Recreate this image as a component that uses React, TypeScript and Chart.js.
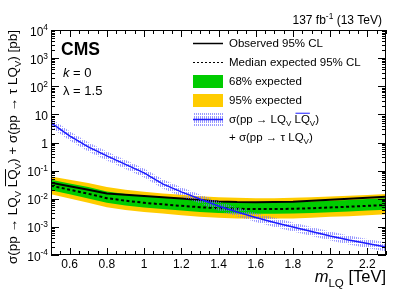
import { useEffect, useRef } from 'react';
import { Chart, registerables } from 'chart.js';
Chart.register(...registerables);

const masses = [0.5, 0.6, 0.7, 0.8, 0.9, 1.0, 1.1, 1.2, 1.3, 1.4, 1.5, 1.6, 1.7, 1.8, 1.9, 2.0, 2.1, 2.2, 2.3];
const observed = [0.037, 0.028, 0.021, 0.0155, 0.0138, 0.0125, 0.0113, 0.0102, 0.009, 0.008, 0.0076, 0.0075, 0.0076, 0.0079, 0.0085, 0.0092, 0.01, 0.0108, 0.0117];
const expected = [0.029, 0.021, 0.015, 0.0105, 0.0085, 0.0072, 0.0063, 0.0056, 0.005, 0.0046, 0.0044, 0.0043, 0.0043, 0.0044, 0.0046, 0.0049, 0.0052, 0.0056, 0.006];
const exp68Up = [0.047, 0.035, 0.026, 0.018, 0.0148, 0.0126, 0.011, 0.0098, 0.0088, 0.0081, 0.0077, 0.0075, 0.0075, 0.0077, 0.008, 0.0085, 0.009, 0.0097, 0.0104];
const exp68Down = [0.02, 0.0145, 0.0103, 0.0072, 0.0058, 0.0049, 0.0043, 0.0038, 0.0034, 0.0031, 0.003, 0.0029, 0.0029, 0.003, 0.0031, 0.0033, 0.0035, 0.0038, 0.0041];
const exp95Up = [0.062, 0.047, 0.036, 0.026, 0.021, 0.0177, 0.0155, 0.0138, 0.0123, 0.0113, 0.0108, 0.0105, 0.0105, 0.0108, 0.0113, 0.012, 0.0127, 0.0137, 0.0147];
const exp95Down = [0.0145, 0.0102, 0.0072, 0.005, 0.004, 0.0034, 0.003, 0.0026, 0.0023, 0.0021, 0.002, 0.002, 0.002, 0.002, 0.0021, 0.0023, 0.0024, 0.0026, 0.0028];
const theory = [4.99, 1.72, 0.70, 0.333, 0.166, 0.083, 0.0337, 0.0175, 0.0098, 0.0055, 0.0034, 0.00216, 0.00144, 0.00099, 0.000685, 0.000474, 0.000342, 0.000256, 0.000193];
const theoryUp = [7.24, 2.49, 1.02, 0.483, 0.241, 0.12, 0.0489, 0.0254, 0.0142, 0.008, 0.0049, 0.00313, 0.00209, 0.00144, 0.00099, 0.000687, 0.000496, 0.000371, 0.00028];
const theoryDown = [3.44, 1.19, 0.483, 0.23, 0.114, 0.0572, 0.0232, 0.0121, 0.00676, 0.00379, 0.00234, 0.00149, 0.00099, 0.00068, 0.000472, 0.000327, 0.000236, 0.000177, 0.000133];

const xTickValues = [0.6, 0.8, 1.0, 1.2, 1.4, 1.6, 1.8, 2.0, 2.2];
const xTickLabels = ['0.6', '0.8', '1', '1.2', '1.4', '1.6', '1.8', '2', '2.2'];
const yTickExponents = [-4, -3, -2, -1, 0, 1, 2, 3, 4];

const legendLabels = ['Observed 95% CL', 'Median expected 95% CL', '68% expected', '95% expected'];

const FONT = '"Liberation Sans", Arial, Helvetica, sans-serif';
const GREEN = '#00cc00';
const YELLOW = '#ffcc00';
const BLUE = '#1a1aff';

type Seg = { t: string; s?: 'sub' | 'sup'; i?: boolean; b?: boolean; o?: boolean };

function fontFor(seg: Seg, size: number) {
  const sz = seg.s ? size * 0.7 : size;
  return `${seg.i ? 'italic ' : ''}${seg.b ? 'bold ' : ''}${sz}px ${FONT}`;
}

function measureRich(ctx: CanvasRenderingContext2D, segs: Seg[], size: number) {
  let w = 0;
  for (const s of segs) {
    ctx.font = fontFor(s, size);
    w += ctx.measureText(s.t).width;
  }
  return w;
}

function drawRich(ctx: CanvasRenderingContext2D, segs: Seg[], x: number, y: number, size: number, align: 'left' | 'right' | 'center') {
  const w = measureRich(ctx, segs, size);
  let cx = align === 'left' ? x : align === 'right' ? x - w : x - w / 2;
  ctx.textAlign = 'left';
  ctx.textBaseline = 'alphabetic';
  for (const s of segs) {
    ctx.font = fontFor(s, size);
    const sw = ctx.measureText(s.t).width;
    const dy = s.s === 'sub' ? size * 0.3 : s.s === 'sup' ? -size * 0.42 : 0;
    ctx.fillText(s.t, cx, y + dy);
    if (s.o) {
      ctx.save();
      ctx.lineWidth = 1;
      ctx.beginPath();
      ctx.moveTo(cx + 1, y - size * 0.85);
      ctx.lineTo(cx + sw, y - size * 0.85);
      ctx.stroke();
      ctx.restore();
    }
    cx += sw;
  }
}

function makeHatch(): CanvasPattern | string {
  const c = document.createElement('canvas');
  c.width = 2;
  c.height = 4;
  const g = c.getContext('2d');
  if (!g) return 'rgba(120,120,255,0.5)';
  g.fillStyle = 'rgba(110,110,255,0.7)';
  g.fillRect(0, 0, 1, 3);
  const p = g.createPattern(c, 'repeat');
  return p || 'rgba(120,120,255,0.5)';
}

function pts(arr: number[]) {
  return masses.map((m, i) => ({ x: m, y: arr[i] }));
}

export default function App() {
  const ref = useRef<HTMLCanvasElement>(null);

  useEffect(() => {
    if (!ref.current) return;
    const hatch = makeHatch();

    const deco = {
      id: 'deco',
      beforeDraw(chart: any) {
        const ctx = chart.ctx as CanvasRenderingContext2D;
        ctx.save();
        ctx.fillStyle = '#fff';
        ctx.fillRect(0, 0, chart.width, chart.height);
        ctx.restore();
      },
      afterDraw(chart: any) {
        const ctx = chart.ctx as CanvasRenderingContext2D;
        const { left, right, top, bottom } = chart.chartArea;
        const xs = chart.scales.x;
        const ys = chart.scales.y;
        ctx.save();
        ctx.strokeStyle = '#000';
        ctx.fillStyle = '#000';
        ctx.lineWidth = 1;
        ctx.strokeRect(left + 0.5, top + 0.5, right - left - 1, bottom - top - 1);

        const line = (x1: number, y1: number, x2: number, y2: number) => {
          ctx.beginPath();
          ctx.moveTo(x1, y1);
          ctx.lineTo(x2, y2);
          ctx.stroke();
        };

        // x ticks (every 0.05, major every 0.2)
        for (let i = 10; i <= 46; i++) {
          const v = i * 0.05;
          const px = Math.round(xs.getPixelForValue(v)) + 0.5;
          const len = i % 4 === 0 ? 7 : 4;
          line(px, bottom, px, bottom - len);
          line(px, top, px, top + len);
        }
        // y ticks (log)
        for (let e = -4; e <= 4; e++) {
          for (let k = 1; k <= 9; k++) {
            if (e === 4 && k > 1) break;
            const v = k * Math.pow(10, e);
            const py = Math.round(ys.getPixelForValue(v)) + 0.5;
            const len = k === 1 ? 8 : 4;
            line(left, py, left + len, py);
            line(right, py, right - len, py);
          }
        }

        // x labels
        ctx.font = `12px ${FONT}`;
        ctx.textAlign = 'center';
        ctx.textBaseline = 'middle';
        xTickValues.forEach((v, i) => {
          ctx.fillText(xTickLabels[i], xs.getPixelForValue(v), bottom + 10);
        });
        // y labels
        yTickExponents.forEach((e) => {
          const py = ys.getPixelForValue(Math.pow(10, e));
          let segs: Seg[];
          if (e === 0) segs = [{ t: '1' }];
          else if (e === 1) segs = [{ t: '10' }];
          else segs = [{ t: '10' }, { t: String(e), s: 'sup' }];
          drawRich(ctx, segs, left - 3, py + 5.5, 12, 'right');
        });

        // x title
        drawRich(ctx, [{ t: 'm', i: true }, { t: 'LQ', s: 'sub' }, { t: ' [TeV]' }], right, 282, 16.5, 'right');

        // y title
        ctx.save();
        ctx.translate(17, top);
        ctx.rotate(-Math.PI / 2);
        drawRich(ctx, [
          { t: 'σ(pp → LQ' }, { t: 'V', s: 'sub' }, { t: ' ' }, { t: 'LQ', o: true }, { t: 'V', s: 'sub' },
          { t: ') + σ(pp → τ LQ' }, { t: 'V', s: 'sub' }, { t: ') [pb]' },
        ], 0, 0, 13.5, 'right');
        ctx.restore();

        // top right lumi
        drawRich(ctx, [{ t: '137 fb' }, { t: '-1', s: 'sup' }, { t: ' (13 TeV)' }], 382, 24, 12, 'right');

        // CMS and params
        drawRich(ctx, [{ t: 'CMS', b: true }], 61, 55, 17.5, 'left');
        drawRich(ctx, [{ t: 'k', i: true }, { t: ' = 0' }], 63, 77, 13, 'left');
        drawRich(ctx, [{ t: 'λ = 1.5' }], 63, 95, 13, 'left');

        // legend
        const lx0 = 193, lx1 = 223, tx = 229;
        const rows = [43, 62, 81, 100, 119, 137];
        ctx.lineWidth = 1.5;
        ctx.strokeStyle = '#000';
        line(lx0, rows[0] + 0.5, lx1, rows[0] + 0.5);
        ctx.save();
        ctx.lineWidth = 1;
        ctx.setLineDash([2, 2]);
        line(lx0, rows[1] + 0.5, lx1, rows[1] + 0.5);
        ctx.restore();
        ctx.fillStyle = GREEN;
        ctx.fillRect(lx0, rows[2] - 6, lx1 - lx0, 13);
        ctx.fillStyle = YELLOW;
        ctx.fillRect(lx0, rows[3] - 6, lx1 - lx0, 13);
        ctx.fillStyle = hatch as any;
        ctx.fillRect(lx0, rows[4] - 6, lx1 - lx0, 13);
        ctx.strokeStyle = BLUE;
        ctx.lineWidth = 1.5;
        line(lx0, rows[4] + 0.5, lx1, rows[4] + 0.5);

        ctx.fillStyle = '#000';
        const ls = 11.5;
        legendLabels.forEach((t, i) => drawRich(ctx, [{ t }], tx, rows[i] + 4, ls, 'left'));
        drawRich(ctx, [{ t: 'σ(pp → LQ' }, { t: 'V', s: 'sub' }, { t: ' ' }, { t: 'LQ', o: true }, { t: 'V', s: 'sub' }, { t: ')' }], tx, rows[4] + 4, ls, 'left');
        drawRich(ctx, [{ t: '+ σ(pp → τ LQ' }, { t: 'V', s: 'sub' }, { t: ')' }], tx, rows[5] + 4, ls, 'left');

        ctx.restore();
      },
    };

    const chart = new Chart(ref.current, {
      type: 'line',
      data: {
        datasets: [
          { data: pts(theory), borderColor: BLUE, borderWidth: 1.5, fill: false, order: 0 },
          { data: pts(theoryUp), borderWidth: 0, borderColor: 'rgba(0,0,0,0)', backgroundColor: hatch as any, fill: '+1', order: 1 },
          { data: pts(theoryDown), borderWidth: 0, borderColor: 'rgba(0,0,0,0)', fill: false, order: 1 },
          { data: pts(observed), borderColor: '#000', borderWidth: 2, fill: false, order: 2 },
          { data: pts(expected), borderColor: '#000', borderWidth: 2, borderDash: [3, 2.5], fill: false, order: 3 },
          { data: pts(exp68Up), borderWidth: 0, borderColor: 'rgba(0,0,0,0)', backgroundColor: GREEN, fill: '+1', order: 4 },
          { data: pts(exp68Down), borderWidth: 0, borderColor: 'rgba(0,0,0,0)', fill: false, order: 4 },
          { data: pts(exp95Up), borderWidth: 0, borderColor: 'rgba(0,0,0,0)', backgroundColor: YELLOW, fill: '+1', order: 5 },
          { data: pts(exp95Down), borderWidth: 0, borderColor: 'rgba(0,0,0,0)', fill: false, order: 5 },
        ] as any,
      },
      options: {
        responsive: false,
        devicePixelRatio: 1,
        animation: false,
        layout: { padding: { left: 51, right: 21, top: 30, bottom: 39 } },
        plugins: { legend: { display: false }, tooltip: { enabled: false } },
        elements: { point: { radius: 0 }, line: { tension: 0 } },
        scales: {
          x: { type: 'linear', min: 0.5, max: 2.3, display: false },
          y: { type: 'logarithmic', min: 1e-4, max: 1e4, display: false },
        },
      },
      plugins: [deco],
    });
    return () => chart.destroy();
  }, []);

  return (
    <div style={{ position: 'fixed', left: 0, top: 0, width: 407, height: 294, background: '#fff' }}>
      <canvas ref={ref} width={407} height={294} style={{ display: 'block', width: 407, height: 294 }} />
    </div>
  );
}
